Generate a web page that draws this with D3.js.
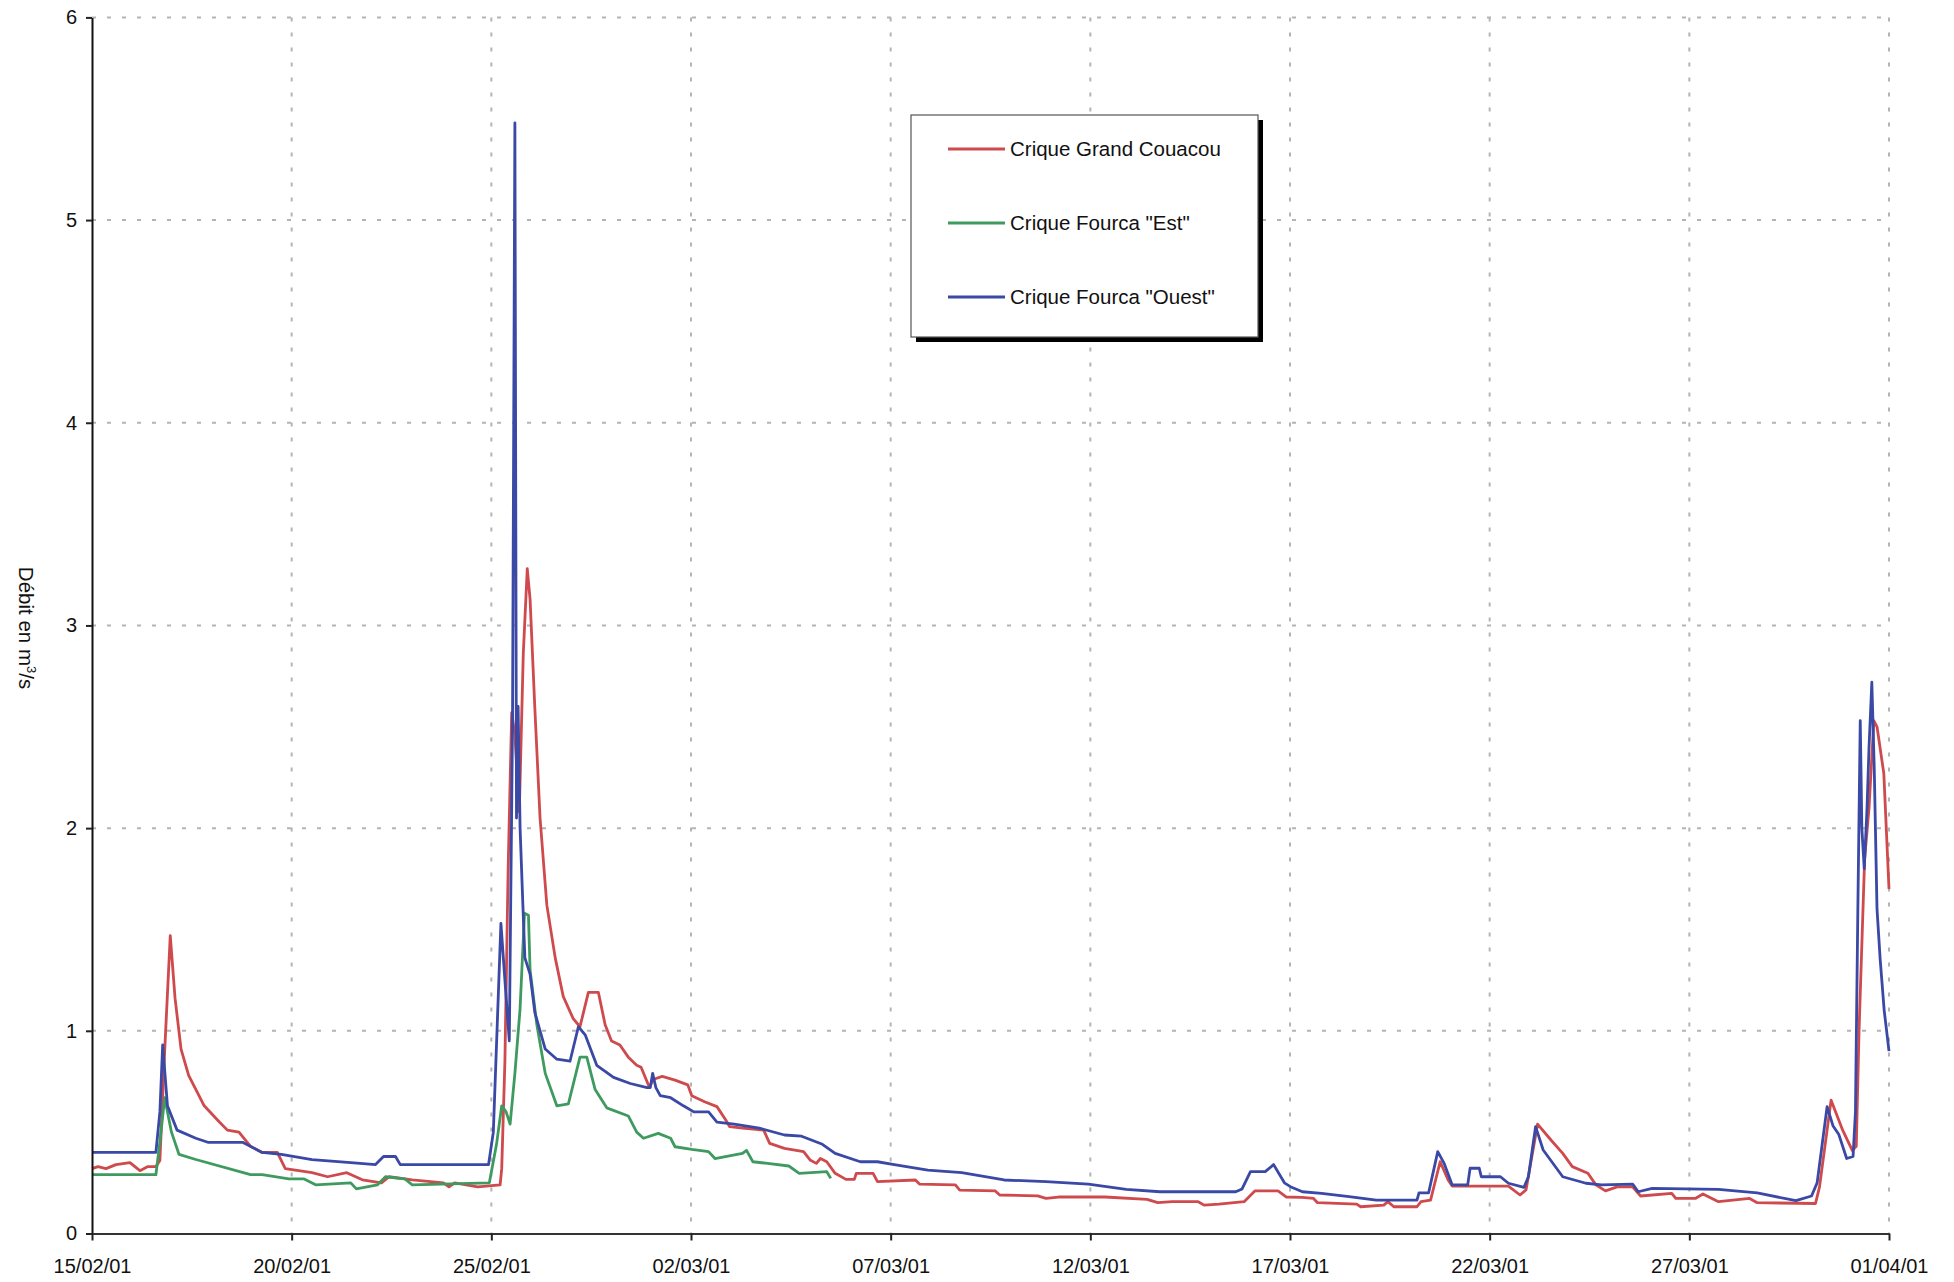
<!DOCTYPE html>
<html>
<head>
<meta charset="utf-8">
<script src="https://cdn.jsdelivr.net/npm/d3@7"></script>
<style>
  html, body { margin: 0; padding: 0; background: #ffffff; }
  svg { display: block; font-family: "Liberation Sans", Arial, sans-serif; }
</style>
</head>
<body>
<svg id="chart" width="1954" height="1282"></svg>
<script>
// Débit journalier des criques, 15/02/2001 – 01/04/2001.
// Temps exprimés en jours écoulés depuis le 15/02/2001 à 00h.

const startDate = "15/02/01";
const endDate = "01/04/01";
const tickLabels = ["15/02/01", "20/02/01", "25/02/01", "02/03/01", "07/03/01",
                    "12/03/01", "17/03/01", "22/03/01", "27/03/01", "01/04/01"];
const yTicks = [0, 1, 2, 3, 4, 5, 6];

const seriesNames = ["Crique Grand Couacou", "Crique Fourca \"Est\"", "Crique Fourca \"Ouest\""];
const seriesColors = ["#cf4a4c", "#3f9a60", "#3a48a6"];

// Crique Grand Couacou
const couacouDays = [0, 0.15, 0.35, 0.6, 0.95, 1.2, 1.4, 1.6, 1.7, 1.82, 1.96, 2.08, 2.23, 2.42, 2.81,
  3.19, 3.39, 3.68, 3.97, 4.26, 4.64, 4.84, 5.51, 5.9, 6.38, 6.77, 7.25, 7.44, 8.02, 8.8, 8.94,
  9.08, 9.66, 10.22, 10.26, 10.34, 10.42, 10.51, 10.59, 10.70, 10.80, 10.90, 10.97, 11.09, 11.22,
  11.39, 11.6, 11.8, 12.05, 12.22, 12.43, 12.68, 12.85, 13.01, 13.22, 13.43, 13.64, 13.75, 13.96,
  14.05, 14.28, 14.6, 14.92, 15.02, 15.34, 15.65, 15.87, 15.97, 16.29, 16.82, 16.97, 17.34, 17.82,
  17.98, 18.14, 18.24, 18.4, 18.61, 18.88, 19.09, 19.14, 19.56, 19.67, 20.62, 20.72, 21.62, 21.73,
  22.62, 22.73, 23.68, 23.89, 24.2, 25.37, 26.42, 26.69, 27.05, 27.7, 27.85, 28.22, 28.85, 29.12,
  29.7, 29.91, 30.3, 30.59, 30.69, 31.67, 31.77, 32.35, 32.45, 32.6, 33.18, 33.28, 33.52, 33.76,
  33.96, 34.06, 35.47, 35.76, 35.91, 36.2, 36.54, 36.83, 37.07, 37.46, 37.66, 37.9, 38.19, 38.58,
  38.78, 39.56, 39.66, 40.15, 40.34, 40.73, 41.51, 41.7, 43.16, 43.26, 43.55, 43.84, 44.08, 44.18,
  44.25, 44.39, 44.5, 44.62, 44.7, 44.87, 45.0];
const couacouValues = [0.32, 0.33, 0.32, 0.34, 0.35, 0.31, 0.33, 0.33, 0.36, 0.9, 1.47, 1.16, 0.91, 0.78, 0.63,
  0.55, 0.51, 0.5, 0.43, 0.40, 0.40, 0.32, 0.30, 0.28, 0.30, 0.265, 0.25, 0.28, 0.265, 0.25, 0.23,
  0.25, 0.23, 0.24, 0.32, 0.85, 1.79, 2.57, 2.46, 2.08, 2.86, 3.28, 3.13, 2.59, 2.05,
  1.62, 1.36, 1.17, 1.06, 1.02, 1.19, 1.19, 1.03, 0.95, 0.93, 0.87, 0.83, 0.82, 0.72,
  0.76, 0.775, 0.757, 0.733, 0.68, 0.65, 0.626, 0.56, 0.527, 0.52, 0.51, 0.445, 0.42, 0.404,
  0.363, 0.346, 0.37, 0.354, 0.297, 0.267, 0.267, 0.297, 0.297, 0.256, 0.264, 0.244, 0.24, 0.214,
  0.21, 0.19, 0.186, 0.173, 0.18, 0.18, 0.168, 0.152, 0.157, 0.157, 0.14, 0.145, 0.157, 0.21,
  0.21, 0.18, 0.178, 0.173, 0.152, 0.145, 0.132, 0.14, 0.157, 0.132, 0.132, 0.157, 0.165, 0.354,
  0.264, 0.234, 0.234, 0.19, 0.215, 0.54, 0.46, 0.395, 0.33, 0.297, 0.24, 0.21, 0.23, 0.23,
  0.185, 0.198, 0.173, 0.173, 0.195, 0.157, 0.173, 0.152, 0.148, 0.23, 0.658, 0.51, 0.41, 0.43,
  1.0, 1.85, 2.1, 2.53, 2.5, 2.27, 1.7];

// Crique Fourca "Est"
const estDays = [0, 1.6, 1.7, 1.82, 1.99, 2.18, 2.6, 3.97, 4.26, 4.93, 5.3, 5.6, 6.48, 6.62, 7.15,
  7.35, 7.83, 8.02, 9.95, 10.13, 10.26, 10.37, 10.47, 10.59, 10.72, 10.83, 10.93, 10.97, 11.14,
  11.35, 11.64, 11.93, 12.22, 12.39, 12.6, 12.89, 13.43, 13.64, 13.81, 14.18, 14.49, 14.6, 15.02,
  15.44, 15.6, 16.29, 16.39, 16.55, 16.92, 17.45, 17.71, 18.4, 18.5];
const estValues = [0.29, 0.29, 0.45, 0.67, 0.5, 0.39, 0.365, 0.29, 0.29, 0.27, 0.27, 0.24, 0.25, 0.22, 0.24,
  0.28, 0.27, 0.24, 0.25, 0.44, 0.63, 0.6, 0.54, 0.79, 1.11, 1.58, 1.57, 1.3, 1.03,
  0.79, 0.63, 0.64, 0.87, 0.87, 0.71, 0.62, 0.58, 0.5, 0.47, 0.494, 0.47, 0.428, 0.415,
  0.404, 0.37, 0.395, 0.41, 0.354, 0.346, 0.333, 0.297, 0.305, 0.272];

// Crique Fourca "Ouest"
const ouestDays = [0, 1.6, 1.7, 1.77, 1.89, 2.13, 2.6, 2.9, 3.77, 4.26, 4.74, 5.51, 6.48, 7.1, 7.3,
  7.6, 7.72, 9.93, 10.05, 10.24, 10.34, 10.45, 10.53, 10.59, 10.63, 10.67, 10.72, 10.79, 10.84,
  10.97, 11.09, 11.35, 11.64, 11.97, 12.18, 12.35, 12.64, 13.06, 13.48, 13.9, 13.98, 14.04, 14.12,
  14.23, 14.49, 14.81, 15.07, 15.44, 15.65, 16.08, 16.71, 17.34, 17.77, 18.29, 18.61, 19.24, 19.67,
  20.09, 20.93, 21.78, 22.84, 23.89, 24.95, 25.9, 26.74, 28.64, 28.8, 29.01, 29.38, 29.59, 29.86,
  30.01, 30.31, 30.79, 31.48, 32.16, 33.18, 33.23, 33.47, 33.7, 33.86, 34.06, 34.45, 34.51, 34.74,
  34.79, 35.27, 35.47, 35.86, 35.97, 36.15, 36.34, 36.83, 37.41, 37.8, 38.58, 38.72, 39.07, 40.73,
  41.7, 42.67, 43.06, 43.2, 43.45, 43.6, 43.74, 43.94, 44.1, 44.16, 44.22, 44.28, 44.32, 44.38,
  44.45, 44.5, 44.57, 44.63, 44.7, 44.78, 44.88, 45.0];
const ouestValues = [0.40, 0.40, 0.6, 0.93, 0.63, 0.51, 0.47, 0.45, 0.45, 0.40, 0.39, 0.365, 0.35, 0.34, 0.38,
  0.38, 0.34, 0.34, 0.5, 1.53, 1.25, 0.95, 2.5, 5.48, 2.05, 2.6, 2.0, 1.62, 1.36,
  1.28, 1.09, 0.91, 0.86, 0.85, 1.02, 0.98, 0.83, 0.77, 0.74, 0.72, 0.72, 0.79, 0.72,
  0.68, 0.67, 0.63, 0.60, 0.60, 0.55, 0.54, 0.52, 0.486, 0.48, 0.44, 0.395, 0.354, 0.354,
  0.34, 0.313, 0.30, 0.264, 0.256, 0.244, 0.218, 0.206, 0.206, 0.22, 0.305, 0.305, 0.34, 0.25,
  0.231, 0.206, 0.198, 0.182, 0.165, 0.165, 0.2, 0.2, 0.404, 0.346, 0.24, 0.24, 0.322, 0.322,
  0.28, 0.28, 0.248, 0.228, 0.28, 0.527, 0.412, 0.28, 0.248, 0.24, 0.244, 0.206, 0.223, 0.218,
  0.2, 0.162, 0.185, 0.25, 0.626, 0.53, 0.49, 0.37, 0.38, 0.6, 1.6, 2.53, 2.0, 1.8,
  2.1, 2.4, 2.72, 2.3, 1.6, 1.35, 1.1, 0.9];

// ---- construction ----
const parseDate = d3.utcParse("%d/%m/%y");
const t0 = parseDate(startDate);
const t1 = parseDate(endDate);
const dayMs = 86400000;
const toDate = d => new Date(t0.getTime() + d * dayMs);

const series = [
  { name: seriesNames[0], color: seriesColors[0], days: couacouDays, values: couacouValues },
  { name: seriesNames[1], color: seriesColors[1], days: estDays, values: estValues },
  { name: seriesNames[2], color: seriesColors[2], days: ouestDays, values: ouestValues }
].map(s => ({ ...s, points: s.days.map((d, i) => ({ t: toDate(d), v: s.values[i] })) }));

const svg = d3.select("#chart");
const plot = { left: 92, right: 1889, top: 17.4, bottom: 1233.5 };

const x = d3.scaleUtc().domain([t0, t1]).range([plot.left, plot.right]);
const y = d3.scaleLinear().domain([0, 6]).range([plot.bottom, plot.top]);
const tickDates = tickLabels.map(parseDate);

svg.append("rect").attr("width", 1954).attr("height", 1282).attr("fill", "#ffffff");

// dotted grid
const grid = svg.append("g").attr("stroke", "#b4b4b4").attr("stroke-width", 2)
  .attr("stroke-dasharray", "4,11");
grid.selectAll("line.h").data(yTicks.filter(v => v > 0)).join("line")
  .attr("class", "h")
  .attr("x1", plot.left).attr("x2", plot.right)
  .attr("y1", d => y(d)).attr("y2", d => y(d));
grid.selectAll("line.v").data(tickDates.slice(1)).join("line")
  .attr("class", "v")
  .attr("x1", d => x(d)).attr("x2", d => x(d))
  .attr("y1", plot.top).attr("y2", plot.bottom);

// series lines
const line = d3.line().x(d => x(d.t)).y(d => y(d.v));
svg.append("g").selectAll("path").data(series).join("path")
  .attr("fill", "none")
  .attr("stroke", d => d.color)
  .attr("stroke-width", 2.8)
  .attr("stroke-linejoin", "round")
  .attr("d", d => line(d.points));

// axes
const yAxis = svg.append("g")
  .attr("transform", `translate(${plot.left},0)`)
  .call(d3.axisLeft(y).tickValues(yTicks).tickFormat(d3.format("d"))
    .tickSize(6).tickSizeOuter(0).tickPadding(9));
const xAxis = svg.append("g")
  .attr("transform", `translate(0,${plot.bottom})`)
  .call(d3.axisBottom(x).tickValues(tickDates).tickFormat((d, i) => tickLabels[i])
    .tickSize(7).tickSizeOuter(0).tickPadding(18));

[yAxis, xAxis].forEach(g => {
  g.selectAll("text").attr("font-size", 20).attr("fill", "#111")
    .attr("font-family", "\"Liberation Sans\", Arial, sans-serif");
  g.selectAll("line").attr("stroke", "#222").attr("stroke-width", 2);
});
yAxis.select(".domain").attr("stroke", "#111").attr("stroke-width", 2);
xAxis.select(".domain").attr("stroke", "#333").attr("stroke-width", 2);

// axis title
const yTitle = svg.append("text")
  .attr("transform", "translate(19,628) rotate(90)")
  .attr("text-anchor", "middle")
  .attr("font-size", 20.5)
  .attr("fill", "#111");
yTitle.append("tspan").text("Débit  en m");
yTitle.append("tspan").attr("font-size", 13).attr("dy", -8).text("3");
yTitle.append("tspan").attr("dy", 8).text("/s");

// legend
const legend = svg.append("g");
const lg = { x: 911, y: 115, w: 347, h: 222 };
legend.append("rect").attr("x", lg.x + 5).attr("y", lg.y + 5)
  .attr("width", lg.w).attr("height", lg.h).attr("fill", "#000");
legend.append("rect").attr("x", lg.x).attr("y", lg.y)
  .attr("width", lg.w).attr("height", lg.h)
  .attr("fill", "#fff").attr("stroke", "#555").attr("stroke-width", 1.2);
const rows = legend.selectAll("g.row").data(series).join("g")
  .attr("class", "row")
  .attr("transform", (d, i) => `translate(0,${149 + i * 74})`);
rows.append("line").attr("x1", 948).attr("x2", 1005)
  .attr("stroke", d => d.color).attr("stroke-width", 2.8);
rows.append("text").attr("x", 1010).attr("dy", "0.35em")
  .attr("font-size", 20.5).attr("fill", "#111")
  .text(d => d.name);
</script>
</body>
</html>
